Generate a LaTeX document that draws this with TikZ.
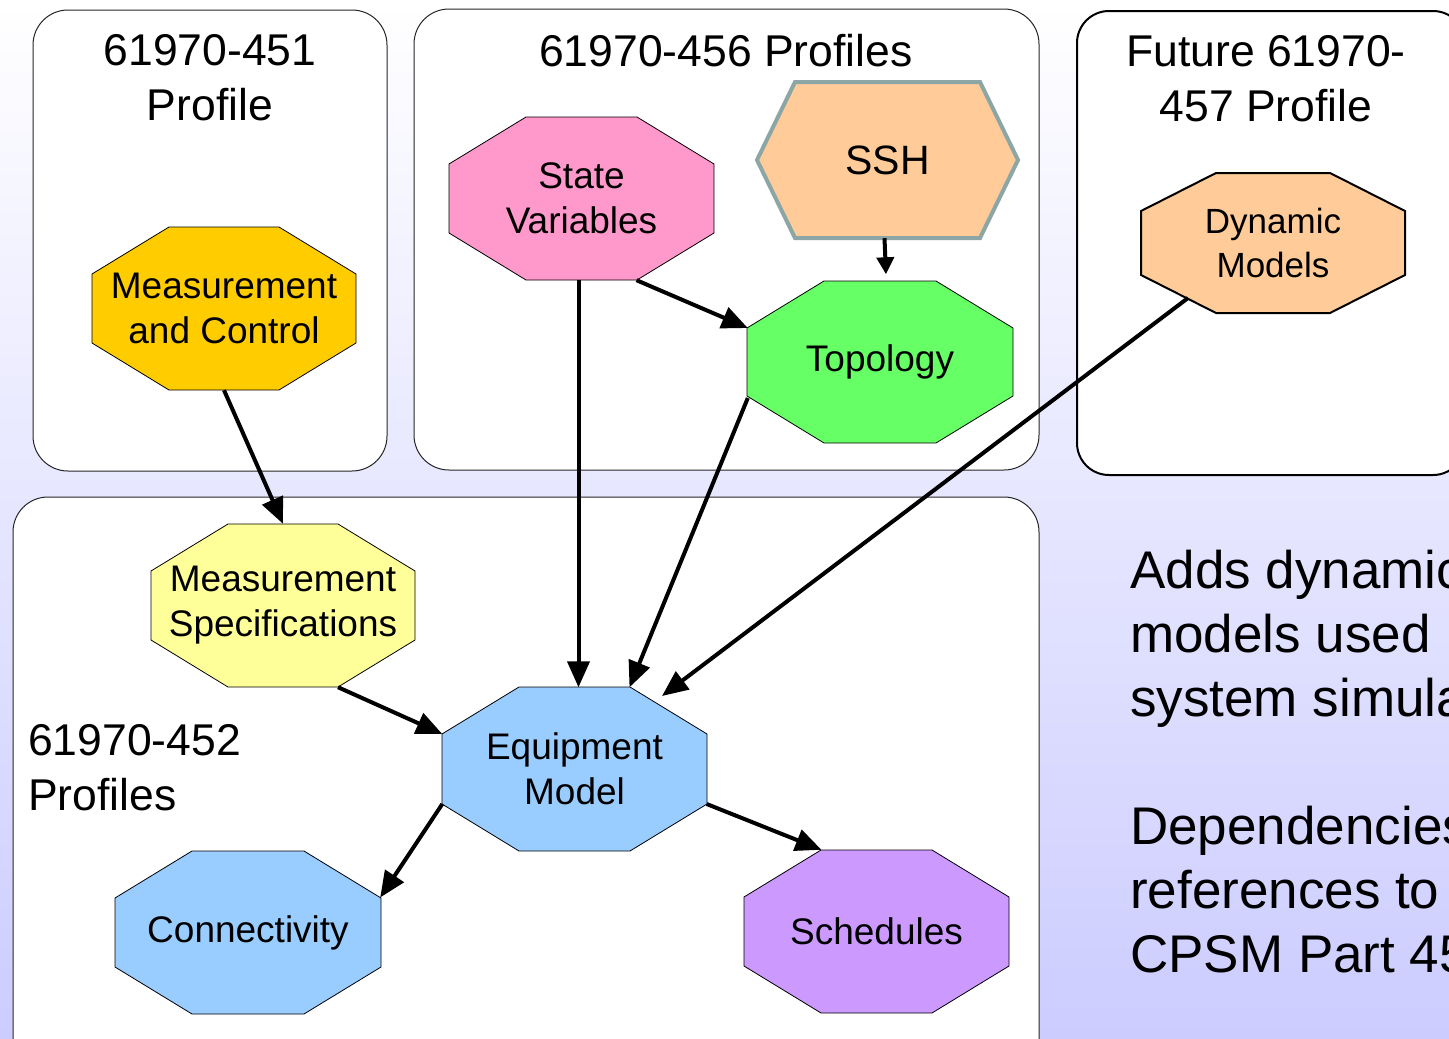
\documentclass[tikz,border=0pt]{standalone}
\usepackage{fontspec}
\setmainfont{Liberation Sans}
\usetikzlibrary{arrows.meta}
\definecolor{mcgold}{RGB}{255,204,0}
\definecolor{svpink}{RGB}{255,153,204}
\definecolor{peach}{RGB}{255,204,153}
\definecolor{sshedge}{RGB}{140,165,165}
\definecolor{topgreen}{RGB}{102,255,102}
\definecolor{msyellow}{RGB}{255,255,153}
\definecolor{eqblue}{RGB}{153,204,255}
\definecolor{schpurple}{RGB}{204,153,255}
\definecolor{bglav}{RGB}{204,204,255}
\definecolor{bgmid}{RGB}{234,234,253}
% octagon outline: style, centre, half width, half height, corner cut x, corner cut y
\newcommand\octshape[6]{%
  \path[#1, shift={(#2)}] ({-#3+#5},{-#4}) -- ({#3-#5},{-#4}) -- (#3,{-#4+#6})
    -- (#3,{#4-#6}) -- ({#3-#5},#4) -- ({-#3+#5},#4) -- ({-#3},{#4-#6})
    -- ({-#3},{-#4+#6}) -- cycle;}
\tikzset{
  octline/.style={draw=black, line width=0.8pt},
  elem/.style={inner sep=0pt, align=center, minimum width=264pt, minimum height=163pt,
    font=\fontsize{37}{45}\selectfont},
  profilebox/.style={draw=black!85, line width=1pt, fill=white, rounded corners=35pt, inner sep=0pt},
  boxtitle/.style={inner sep=0pt, font=\fontsize{44.5}{55}\selectfont},
  notetext/.style={inner sep=0pt, align=left, font=\fontsize{53}{64}\selectfont},
  arr/.style={line width=4pt, -{Triangle[length=26pt,width=22pt]}},
  arrsmall/.style={line width=4pt, -{Triangle[length=17pt,width=17pt]}}
}
\begin{document}
\begin{tikzpicture}[x=1pt,y=-1pt]
\useasboundingbox (0,0) rectangle (1449,1039);
\clip (0,0) rectangle (1449,1039);
% page background
\shade[top color=white, middle color=bgmid, bottom color=bglav] (0,0) rectangle (1449,1039);

% profile containers
\node[profilebox, minimum width=354pt, minimum height=461pt] (b451) at (210,240.5) {};
\node[profilebox, minimum width=625pt, minimum height=461pt] (b456) at (726.5,239.5) {};
\node[profilebox, line width=2pt, draw=black, rounded corners=32pt, minimum width=388pt, minimum height=464pt] (b457) at (1271,243) {};
\node[profilebox, minimum width=1026pt, minimum height=578pt] (b452) at (526,786) {};

% container titles
\node[boxtitle, align=center, anchor=north] (t451) at (210,34.5) {61970-451\\Profile};
\node[boxtitle, anchor=base] (t456) at (726,66) {61970-456 Profiles};
\node[boxtitle, align=center, anchor=north] (t457) at (1266,35) {Future 61970-\\457 Profile};
\node[boxtitle, align=left, anchor=north west] (t452) at (28,724) {61970-452\\Profiles};

% element outlines
\octshape{octline, fill=mcgold}{224,308.5}{132}{81.5}{77}{47}
\octshape{octline, fill=svpink}{581.5,198.5}{132.5}{81.5}{77}{47}
\path[draw=sshedge, line width=4pt, fill=peach, line join=miter, shift={(887.5,160)}]
  (-92.5,-78) -- (92.5,-78) -- (130.5,0) -- (92.5,78) -- (-92.5,78) -- (-130.5,0) -- cycle;
\octshape{octline, fill=topgreen}{880,362}{133}{81}{77}{47}
\octshape{draw=black, line width=2pt, fill=peach}{1273,243}{132}{70}{75}{38}
\octshape{octline, fill=msyellow}{283,605.5}{132}{81.5}{77}{47}
\octshape{octline, fill=eqblue}{574.5,769}{132.5}{82}{77}{47}
\octshape{octline, fill=eqblue}{248,932.5}{133}{81.5}{77}{47}
\octshape{octline, fill=schpurple}{876.5,931.5}{132.5}{81.5}{77}{47}

% profile elements
\node[elem] (mc) at (224,308.5) {Measurement\\and Control};
\node[elem] (sv) at (581.5,198.5) {State\\Variables};
\node[elem, minimum width=261pt, minimum height=156pt, font=\fontsize{41}{45}\selectfont] (ssh) at (887.5,160) {SSH};
\node[elem] (topo) at (880,362) {Topology};
\node[elem, minimum height=140pt, font=\fontsize{35}{44}\selectfont] (dm) at (1273,243) {Dynamic\\Models};
\node[elem] (ms) at (283,605.5) {Measurement\\Specifications};
\node[elem] (eq) at (574.5,769) {Equipment\\Model};
\node[elem] (conn) at (248,932.5) {Connectivity};
\node[elem] (sch) at (876.5,931.5) {Schedules};

% dependencies
\draw[arr] (mc.south) -- (ms.north);
\draw[arr] ([xshift=-3pt]sv.south) -- ([xshift=-3pt]sv.south |- eq.north);
\draw[arr] ([xshift=55pt]sv.south) -- ([yshift=34pt]topo.west);
\draw[arrsmall] ([xshift=-3pt]ssh.south) -- ([xshift=6pt,yshift=6pt]topo.north);
\draw[arr] ([yshift=-36pt]topo.west) -- ([xshift=55pt]eq.north);
\draw[arr] ([xshift=-85pt,yshift=-55pt]dm.center) -- ([xshift=87.5pt,yshift=73pt]eq.center);
\draw[arr] ([xshift=55pt]ms.south) -- ([yshift=35pt]eq.west);
\draw[arr] ([yshift=-35pt]eq.west) -- ([yshift=35pt]conn.east);
\draw[arr] ([yshift=-35pt]eq.east) -- ([xshift=-55pt]sch.north);

% notes
\node[notetext, anchor=north west] (note1) at (1130,550) {Adds dynamic\\models used\\system simulation};
\node[notetext, anchor=north west] (note2) at (1130,806) {Dependencies\\references to\\CPSM Part 452};
\end{tikzpicture}
\end{document}
